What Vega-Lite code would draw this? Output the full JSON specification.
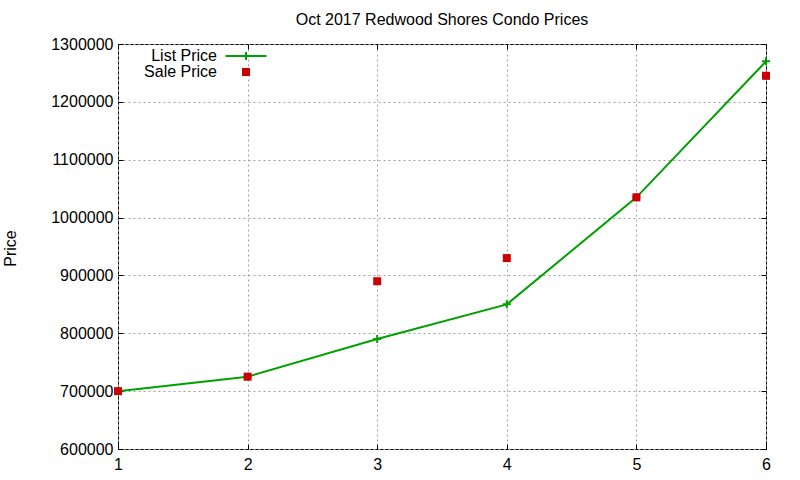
{
  "$schema": "https://vega.github.io/schema/vega-lite/v6.json",
  "width": 648,
  "height": 405,
  "autosize": {"type": "none"},
  "padding": {"left": 118, "top": 44, "right": 34, "bottom": 31},
  "background": "white",
  "title": {
    "text": "Oct 2017 Redwood Shores Condo Prices",
    "font": "Liberation Sans",
    "fontSize": 16,
    "fontWeight": "normal",
    "color": "black",
    "anchor": "middle",
    "frame": "group",
    "baseline": "middle",
    "offset": 0
  },
  "config": {
    "view": {"stroke": "black", "strokeWidth": 1},
    "axis": {
      "domain": false,
      "labelFont": "Liberation Sans",
      "labelFontSize": 16,
      "labelColor": "black",
      "labelFlush": false,
      "tickColor": "black",
      "tickSize": -5,
      "tickWidth": 1,
      "gridColor": "#a0a0a0",
      "gridDash": [2, 3],
      "gridWidth": 1,
      "titleFont": "Liberation Sans",
      "titleFontSize": 16,
      "titleFontWeight": "normal",
      "titleColor": "black"
    },
    "legend": {
      "title": null,
      "orient": "none",
      "legendX": 120,
      "legendY": 4,
      "labelFont": "Liberation Sans",
      "labelFontSize": 16,
      "labelColor": "black",
      "labelAlign": "right",
      "labelOffset": -37,
      "rowPadding": -1,
      "symbolSize": 100,
      "symbolOpacity": 1,
      "symbolStrokeWidth": 0
    }
  },
  "data": {
    "values": [
      {"n": 1, "series": "List Price", "price": 700000},
      {"n": 2, "series": "List Price", "price": 725000},
      {"n": 3, "series": "List Price", "price": 790000},
      {"n": 4, "series": "List Price", "price": 850000},
      {"n": 5, "series": "List Price", "price": 1035000},
      {"n": 6, "series": "List Price", "price": 1270000},
      {"n": 1, "series": "Sale Price", "price": 700000},
      {"n": 2, "series": "Sale Price", "price": 725000},
      {"n": 3, "series": "Sale Price", "price": 890000},
      {"n": 4, "series": "Sale Price", "price": 930000},
      {"n": 5, "series": "Sale Price", "price": 1035000},
      {"n": 6, "series": "Sale Price", "price": 1245000}
    ]
  },
  "layer": [
    {
      "transform": [{"filter": "datum.series === 'List Price'"}],
      "mark": {"type": "line", "color": "#00a000", "strokeWidth": 2},
      "encoding": {
        "x": {
          "field": "n",
          "type": "quantitative",
          "scale": {"domain": [1, 6], "nice": false, "zero": false},
          "axis": {"values": [1, 2, 3, 4, 5, 6], "format": "d", "title": null, "labelPadding": 12, "grid": true}
        },
        "y": {
          "field": "price",
          "type": "quantitative",
          "scale": {"domain": [600000, 1300000], "nice": false, "zero": false},
          "axis": {
            "values": [600000, 700000, 800000, 900000, 1000000, 1100000, 1200000, 1300000],
            "format": "d",
            "title": "Price",
            "titleX": -100,
            "titleY": 204,
            "labelPadding": 10,
            "grid": true
          }
        }
      }
    },
    {
      "mark": {"type": "point", "filled": true, "opacity": 1, "strokeWidth": 2},
      "encoding": {
        "x": {
          "field": "n",
          "type": "quantitative",
          "axis": {"orient": "top", "values": [1, 2, 3, 4, 5, 6], "labels": false, "grid": false, "title": null}
        },
        "y": {
          "field": "price",
          "type": "quantitative",
          "axis": {
            "orient": "right",
            "values": [600000, 700000, 800000, 900000, 1000000, 1100000, 1200000, 1300000],
            "labels": false,
            "grid": false,
            "title": null
          }
        },
        "color": {
          "field": "series",
          "type": "nominal",
          "scale": {"domain": ["List Price", "Sale Price"], "range": ["#00a000", "#cc0000"]},
          "legend": null
        },
        "shape": {
          "field": "series",
          "type": "nominal",
          "scale": {"domain": ["List Price", "Sale Price"], "range": ["M-1,0H1M0,-1V1", "square"]},
          "legend": null
        },
        "stroke": {
          "condition": {"test": "datum.series === 'List Price'", "value": "#00a000"},
          "value": "transparent"
        },
        "size": {"value": 64}
      }
    },
    {
      "mark": {"type": "point", "filled": true, "opacity": 0},
      "encoding": {
        "x": {"field": "n", "type": "quantitative", "axis": null},
        "y": {"field": "price", "type": "quantitative", "axis": null},
        "color": {
          "field": "series",
          "type": "nominal",
          "scale": {"domain": ["List Price", "Sale Price"], "range": ["#00a000", "#cc0000"]},
          "legend": {}
        },
        "shape": {
          "field": "series",
          "type": "nominal",
          "scale": {
            "domain": ["List Price", "Sale Price"],
            "range": ["M-4.1,-0.2H-0.2V-0.8H0.2V-0.2H4.1V0.2H0.2V0.8H-0.2V0.2H-4.1Z", "M-0.8,-0.8H0.8V0.8H-0.8Z"]
          },
          "legend": {}
        }
      }
    }
  ],
  "resolve": {
    "axis": {"x": "independent", "y": "independent"},
    "scale": {"shape": "independent", "color": "independent"}
  }
}
